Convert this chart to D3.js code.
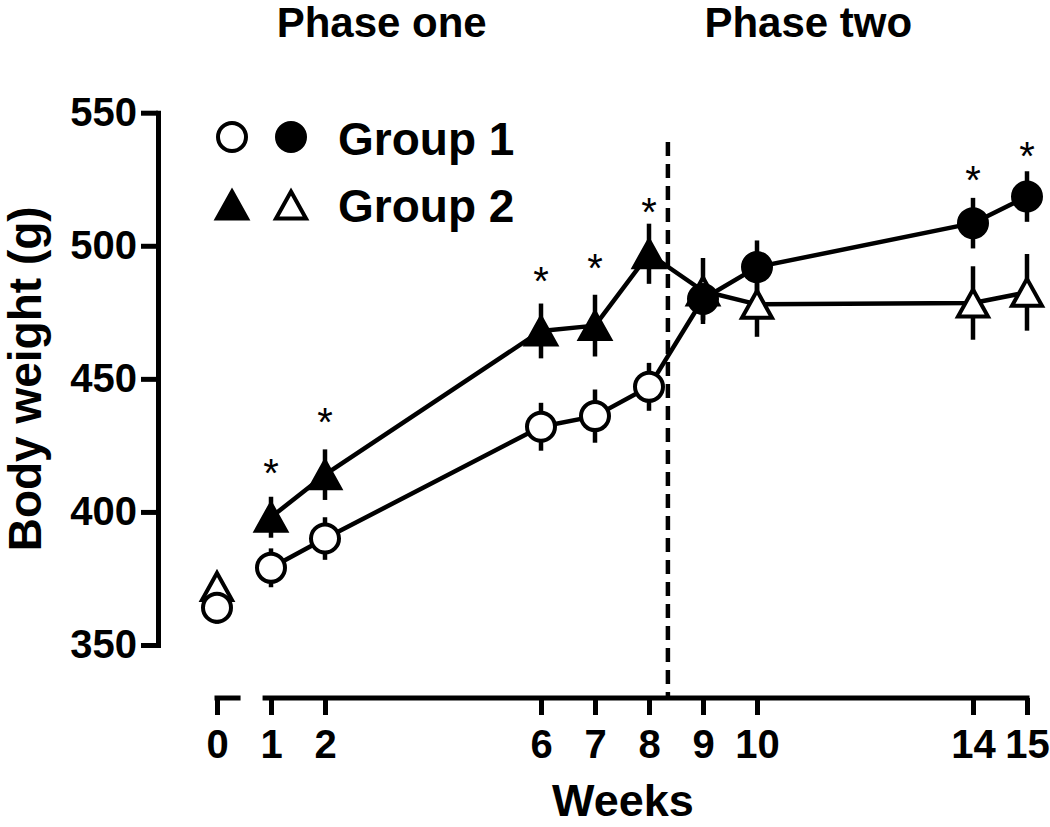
<!DOCTYPE html>
<html>
<head>
<meta charset="utf-8">
<script src="https://cdn.jsdelivr.net/npm/d3@7"></script>
<style>
  html, body { margin: 0; padding: 0; background: #fff; }
  svg { display: block; font-family: "Liberation Sans", Arial, Helvetica, sans-serif; }
</style>
</head>
<body>
<script>
// ---------- data ----------
const weeks = [0, 1, 2, 6, 7, 8, 9, 10, 14, 15];
const xTickLabels = ["0", "1", "2", "6", "7", "8", "9", "10", "14", "15"];
const yTicks = [350, 400, 450, 500, 550];

const group1Mean = [364, 379, 390, 432, 436, 447, 480, 492, 508.5, 518.5];
const group1Err  = [6, 7.3, 8, 9, 10, 9, 8, 10, 9.5, 9.5];
const group1Filled = [false, false, false, false, false, false, true, true, true, true];

const group2Mean = [372, 398, 414, 468, 470, 497, 483, 478, 478.5, 482.5];
const group2Err  = [4, 7.7, 9.5, 10.3, 11.6, 11.3, 12.4, 12.2, 13.8, 14.4];
const group2Filled = [false, true, true, true, true, true, false, false, false, false];

const starWeeks  = [1, 2, 6, 7, 8, 14, 15];
const starValues = [418, 437, 490, 495, 516, 528, 537];

const phaseBreak = 8.35;
const phaseLabels = ["Phase one", "Phase two"];
const phaseLabelWeeks = [3.05, 10.95];
const xAxisSegments = [[0, 0.39], [0.89, 15]];
const legendLabels = ["Group 1", "Group 2"];

// ---------- layout ----------
const W = 1050, H = 827;
const svg = d3.select("body").append("svg").attr("width", W).attr("height", H);

const x = d3.scaleLinear().domain([0, 15]).range([217, 1027]);
const y = d3.scaleLinear().domain([350, 550]).range([645, 112.7]);
const xAxisY = 698;
const yAxisX = 158;
const SW = 4.5;

// y axis
const gy = svg.append("g").attr("transform", `translate(${yAxisX},0)`)
  .call(d3.axisLeft(y).tickValues(yTicks).tickSize(17).tickSizeOuter(0).tickPadding(4));
gy.select(".domain").attr("stroke", "#000").attr("stroke-width", 5).attr("stroke-linecap", "square");
gy.selectAll(".tick line").attr("stroke", "#000").attr("stroke-width", 5);
gy.selectAll(".tick text").attr("fill", "#000").style("font-size", "40px").style("font-weight", "bold")
  .attr("font-family", null);

// x axis
const gx = svg.append("g").attr("transform", `translate(0,${xAxisY})`)
  .call(d3.axisBottom(x).tickValues(weeks).tickFormat((d, i) => xTickLabels[i]).tickSize(17).tickPadding(15));
gx.select(".domain").remove();
gx.selectAll(".tick line").attr("stroke", "#000").attr("stroke-width", 5);
gx.selectAll(".tick text").attr("fill", "#000").style("font-size", "40px").style("font-weight", "bold")
  .attr("font-family", null);
gx.selectAll(".seg").data(xAxisSegments).enter().append("line")
  .attr("x1", d => x(d[0]) - 2.5).attr("x2", d => x(d[1]) + 2.5)
  .attr("y1", 0).attr("y2", 0)
  .attr("stroke", "#000").attr("stroke-width", 5);

// axis titles
svg.append("text").attr("x", 623).attr("y", 816).attr("text-anchor", "middle")
  .style("font-size", "45px").style("font-weight", "bold").text("Weeks");
svg.append("text").attr("transform", `translate(41,${y(450)}) rotate(-90)`).attr("text-anchor", "middle")
  .style("font-size", "46px").style("font-weight", "bold").text("Body weight (g)");

// phase titles
svg.selectAll(".phase").data(phaseLabels).enter().append("text")
  .attr("x", (d, i) => x(phaseLabelWeeks[i])).attr("y", 37).attr("text-anchor", "middle")
  .style("font-size", "42px").style("font-weight", "bold").text(d => d);

// dashed phase divider
svg.append("line").attr("x1", x(phaseBreak)).attr("x2", x(phaseBreak))
  .attr("y1", y(539)).attr("y2", xAxisY)
  .attr("stroke", "#000").attr("stroke-width", 4.5).attr("stroke-dasharray", "14,8");

// data helpers
function toPts(means, errs, filled) {
  return weeks.map((w, i) => ({ w, v: means[i], e: errs[i], f: filled[i], i }));
}
const g1 = toPts(group1Mean, group1Err, group1Filled);
const g2 = toPts(group2Mean, group2Err, group2Filled);

const tri = (s, h) => `M0,${-h / 2}L${s / 2},${h / 2}L${-s / 2},${h / 2}Z`;
const TRI = tri(30, 27);

const line = d3.line().x(d => x(d.w)).y(d => y(d.v));

// error bars
[g2, g1].forEach(pts => {
  svg.append("g").selectAll("line").data(pts).enter().append("line")
    .attr("x1", d => x(d.w)).attr("x2", d => x(d.w))
    .attr("y1", d => y(d.v - d.e)).attr("y2", d => y(d.v + d.e))
    .attr("stroke", "#000").attr("stroke-width", 4.5);
});

// connecting lines (week 0 is not connected)
[g2, g1].forEach(pts => {
  svg.append("path").datum(pts.filter(d => d.w > 0)).attr("d", line)
    .attr("fill", "none").attr("stroke", "#000").attr("stroke-width", SW).attr("stroke-linejoin", "round");
});

// markers: group 2 triangles under group 1 circles
svg.append("g").selectAll("path").data(g2).enter().append("path")
  .attr("d", TRI).attr("transform", d => `translate(${x(d.w)},${y(d.v)})`)
  .attr("fill", d => d.f ? "#000" : "#fff").attr("stroke", "#000").attr("stroke-width", 4).attr("stroke-linejoin", "miter");
svg.append("g").selectAll("circle").data(g1).enter().append("circle")
  .attr("cx", d => x(d.w)).attr("cy", d => y(d.v)).attr("r", 14)
  .attr("fill", d => d.f ? "#000" : "#fff").attr("stroke", "#000").attr("stroke-width", 4);

// significance asterisks
svg.append("g").selectAll("text").data(starWeeks).enter().append("text")
  .attr("x", d => x(d)).attr("y", (d, i) => y(starValues[i]) + 23)
  .attr("text-anchor", "middle").style("font-size", "40px").text("*");

// legend
const lg = svg.append("g");
lg.append("circle").attr("cx", 232).attr("cy", 137).attr("r", 14).attr("fill", "#fff").attr("stroke", "#000").attr("stroke-width", 4);
lg.append("circle").attr("cx", 291).attr("cy", 137).attr("r", 14).attr("fill", "#000").attr("stroke", "#000").attr("stroke-width", 4);
lg.append("path").attr("d", TRI).attr("transform", "translate(232,205)").attr("fill", "#000").attr("stroke", "#000").attr("stroke-width", 4);
lg.append("path").attr("d", TRI).attr("transform", "translate(291,205)").attr("fill", "#fff").attr("stroke", "#000").attr("stroke-width", 4);
lg.selectAll("text").data(legendLabels).enter().append("text")
  .attr("x", 338).attr("y", (d, i) => 155 + i * 67)
  .style("font-size", "46px").style("font-weight", "bold").text(d => d);
</script>
</body>
</html>
